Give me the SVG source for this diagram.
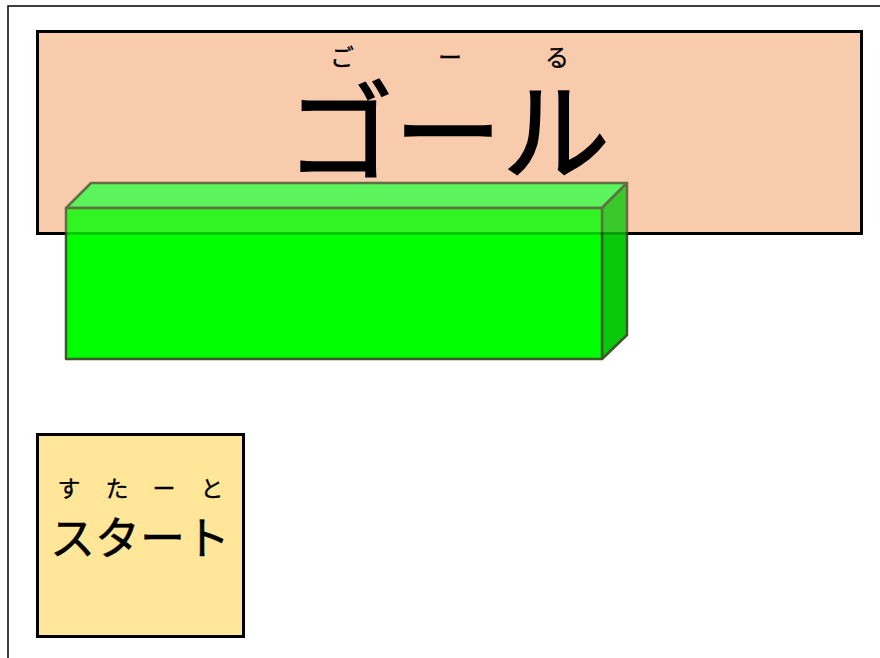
<svg xmlns="http://www.w3.org/2000/svg" width="880" height="658" viewBox="0 0 880 658">
<style>
.jp{font-family:"Noto Sans CJK JP","Noto Sans CJK SC",sans-serif;fill:#000;text-anchor:middle}
.big{stroke:#000;stroke-width:1.6}
.ruby{stroke:#000;stroke-width:0.3}
.card{stroke:#000;stroke-width:3}
.edge{stroke:#3A5A2A;stroke-width:2.5;stroke-linejoin:round}
</style>
<rect x="0" y="0" width="880" height="658" fill="#fff"/>
<path d="M8,660 V6 H882" fill="none" stroke="#000" stroke-width="1.5"/>
<g id="goal">
<rect class="card" x="37.5" y="31.5" width="824" height="202" fill="#F8CBAD"/>
</g>
<g id="block">
<polygon class="edge" points="66,208 91,183 627,183 602,208" fill="#35FF48"/>
<polygon class="edge" points="602,208 627,183 627,335 602,359" fill="#0AC80A"/>
<rect class="edge" x="66" y="208" width="536" height="151" fill="#00FF00"/>
</g>
<g id="goal-overlay" opacity="0.2">
<rect class="card" x="37.5" y="31.5" width="824" height="202" fill="#F8CBAD"/>
</g>
<g id="goal-text">
<text class="jp ruby" font-size="24" x="342" y="66">ご</text>
<text class="jp ruby" font-size="24" x="450" y="66">ー</text>
<text class="jp ruby" font-size="24" x="557" y="66">る</text>
<text class="jp big" font-size="108" x="448" y="172">ゴール</text>
</g>
<g id="start">
<rect class="card" x="37.5" y="434.5" width="206" height="202" fill="#FFE699"/>
<text class="jp ruby" font-size="23" x="69" y="497">す</text>
<text class="jp ruby" font-size="23" x="117" y="497">た</text>
<text class="jp ruby" font-size="23" x="164" y="497">ー</text>
<text class="jp ruby" font-size="23" x="212" y="497">と</text>
<text class="jp" font-size="45" x="140" y="555" stroke="#000" stroke-width="0.5">スタート</text>
</g>
</svg>
